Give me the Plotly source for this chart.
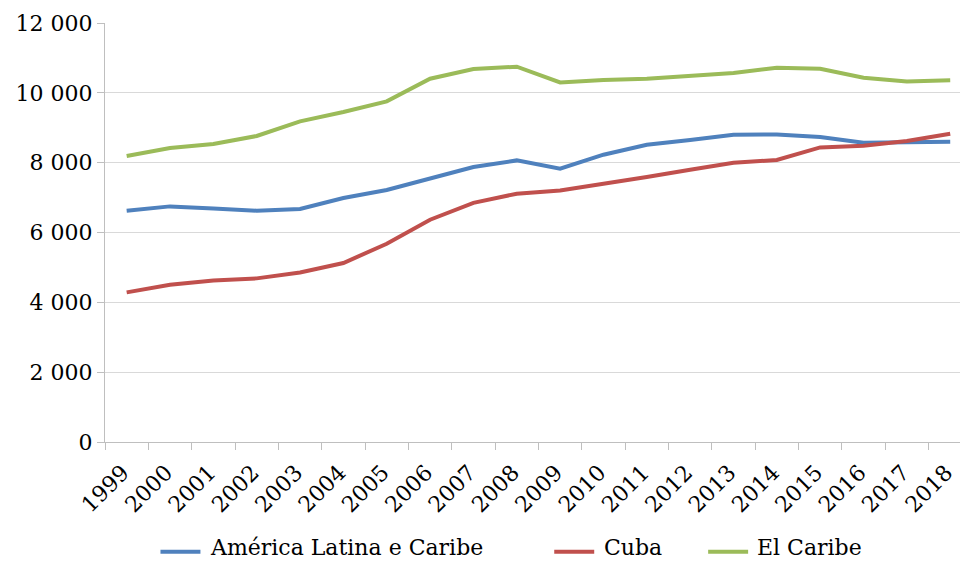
import plotly.graph_objects as go

years = [str(y) for y in range(1999, 2019)]

america_latina = [6624, 6748, 6690, 6624, 6673, 6988, 7217, 7532, 7876, 8065,
                  7827, 8228, 8515, 8649, 8801, 8810, 8735, 8572, 8592, 8601]
cuba = [4285, 4505, 4628, 4686, 4857, 5126, 5679, 6367, 6850, 7111,
        7206, 7389, 7589, 7798, 7999, 8076, 8437, 8486, 8621, 8830]
el_caribe = [8191, 8420, 8534, 8764, 9182, 9451, 9755, 10405, 10682, 10748,
             10299, 10367, 10405, 10482, 10568, 10720, 10691, 10433, 10328, 10357]

y_ticks = [0, 2000, 4000, 6000, 8000, 10000, 12000]

FONT = "DejaVu Serif"
FS = 22
W, H = 960, 564
L, R, T, B = 104.5, 0, 23.3, 121.7
PW, PH = W - L - R, H - T - B


def px_x(px):
    return (px - L) / PW


def px_y(py):
    return (H - B - py) / PH


# name, values, colour, legend key start (px), legend text start (px)
series = [
    ("América Latina e Caribe", america_latina, "#4F81BD", 160, 208),
    ("Cuba", cuba, "#C0504D", 554, 602),
    ("El Caribe", el_caribe, "#9BBB59", 708, 755),
]
KEY_Y = 552
TEXT_Y = 548

fig = go.Figure()
for name, vals, color, key_x, text_x in series:
    fig.add_trace(go.Scatter(
        x=years, y=vals, name=name, mode="lines",
        line=dict(color=color, width=4),
        showlegend=False,
    ))
    # legend entry: coloured key line and label underneath the plot
    fig.add_shape(
        type="line", xref="paper", yref="paper",
        x0=px_x(key_x), x1=px_x(key_x + 40),
        y0=px_y(KEY_Y), y1=px_y(KEY_Y),
        line=dict(color=color, width=4),
    )
    fig.add_annotation(
        text=name, xref="paper", yref="paper",
        x=px_x(text_x), y=px_y(TEXT_Y),
        xanchor="left", yanchor="middle", showarrow=False,
        font=dict(family=FONT, size=FS, color="#000000"),
    )

fig.update_layout(
    width=W, height=H,
    margin=dict(l=L, r=R, t=T, b=B, pad=0, autoexpand=False),
    paper_bgcolor="white",
    plot_bgcolor="white",
    separators=". ",
    showlegend=False,
    font=dict(family=FONT, size=FS, color="#000000"),
    xaxis=dict(
        type="category",
        range=[-0.5, -0.5 + PW / 43.37],
        tickson="boundaries",
        ticks="outside", ticklen=7, tickcolor="#BFBFBF", tickwidth=1,
        showgrid=False,
        showline=True, linecolor="#BFBFBF", linewidth=1,
        tickangle=-45,
        ticklabelstandoff=8,
        ticklabelshift=-4,
        tickfont=dict(family=FONT, size=FS, color="#000000"),
        automargin=False,
        fixedrange=True,
    ),
    yaxis=dict(
        range=[0, 12000],
        tickvals=y_ticks,
        tickformat=",d",
        ticks="outside", ticklen=7, tickcolor="#BFBFBF", tickwidth=1,
        showgrid=True, gridcolor="#D9D9D9", gridwidth=1,
        showline=True, linecolor="#BFBFBF", linewidth=1,
        zeroline=False,
        tickfont=dict(family=FONT, size=FS, color="#000000"),
        automargin=False,
        fixedrange=True,
    ),
)

fig.write_html("out.html")
